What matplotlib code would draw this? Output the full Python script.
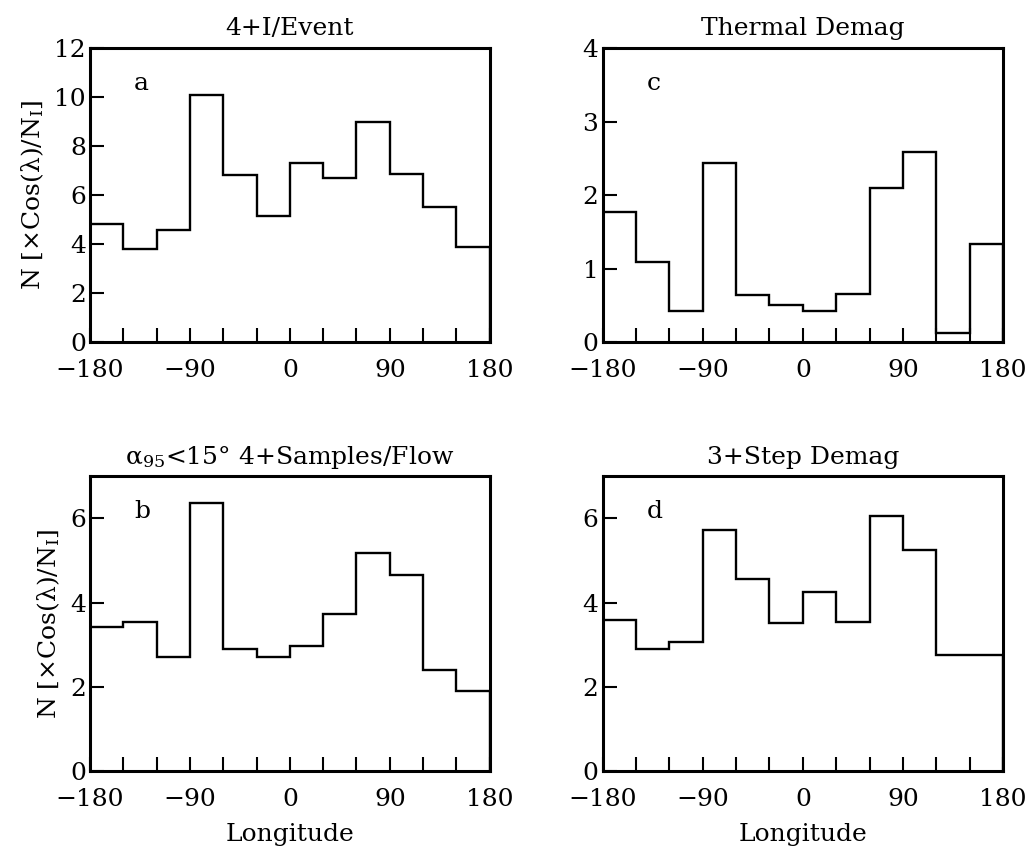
import matplotlib
matplotlib.use("Agg")
import matplotlib.pyplot as plt
import numpy as np
from matplotlib.ticker import MultipleLocator

# bin edges: 12 bins of 30 degrees longitude
edges = np.arange(-180, 181, 30)

vals_a = [4.8, 3.82, 4.57, 10.07, 6.82, 5.14, 7.30, 6.71, 9.0, 6.86, 5.52, 3.89]
vals_b = [3.41, 3.53, 2.72, 6.37, 2.89, 2.72, 2.98, 3.74, 5.17, 4.65, 2.40, 1.91]
vals_c = [1.77, 1.09, 0.42, 2.43, 0.645, 0.51, 0.43, 0.65, 2.10, 2.58, 0.12, 1.33]
vals_d = [3.58, 2.90, 3.07, 5.72, 4.57, 3.51, 4.25, 3.55, 6.05, 5.24, 2.76, 2.76]

titles = ["4+I/Event", "\u03b1$_{95}$<15\u00b0 4+Samples/Flow",
          "Thermal Demag", "3+Step Demag"]
letters = ["a", "b", "c", "d"]
ylims = [12, 7, 4, 7]
ysteps = [2, 2, 1, 2]
xticks = [-180, -90, 0, 90, 180]
xticklabels = ["\u2212180", "\u221290", "0", "90", "180"]
ylabel = "N [\u00d7Cos(\u03bb)/N$_\\mathrm{I}$]"

plt.rcParams["font.family"] = ["DejaVu Serif"]
plt.rcParams["mathtext.fontset"] = "dejavuserif"
plt.rcParams["font.size"] = 18

fig = plt.figure(figsize=(10.3, 8.49), dpi=100)
boxes = [
    [0.0874, 0.597, 0.388, 0.3465],  # a
    [0.0874, 0.0919, 0.388, 0.347],  # b
    [0.585, 0.597, 0.389, 0.3465],   # c
    [0.585, 0.0919, 0.389, 0.347],   # d
]
series = [vals_a, vals_b, vals_c, vals_d]

for i, (box, vals) in enumerate(zip(boxes, series)):
    ax = fig.add_axes(box)
    ax.stairs(vals, edges, color="black", linewidth=1.7)
    ax.set_xlim(-180, 180)
    ax.set_ylim(0, ylims[i])
    ax.set_xticks(xticks)
    ax.set_xticklabels(xticklabels)
    ax.xaxis.set_minor_locator(MultipleLocator(30))
    ax.yaxis.set_major_locator(MultipleLocator(ysteps[i]))
    ax.tick_params(axis="both", which="both", direction="in", top=False, right=False,
                   width=1.5, length=10)
    ax.tick_params(axis="x", pad=12)
    ax.tick_params(axis="y", pad=3)
    for s in ax.spines.values():
        s.set_linewidth(2.2)
    ax.set_title(titles[i], fontsize=18, pad=9)
    ax.text(0.11, 0.88, letters[i], transform=ax.transAxes, fontsize=18,
            ha="left", va="center")
    if i < 2:
        ax.set_ylabel(ylabel, fontsize=18, labelpad=6)
    if i in (1, 3):
        ax.set_xlabel("Longitude", fontsize=18, labelpad=9)

fig.savefig("out.png", dpi=100)
